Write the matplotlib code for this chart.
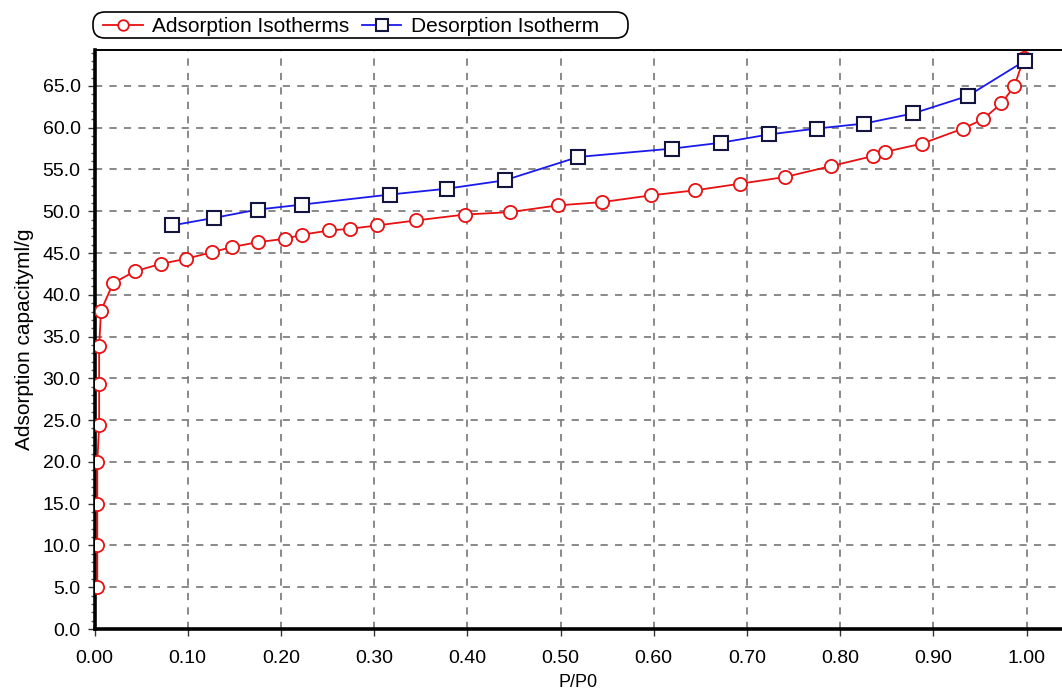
import matplotlib
matplotlib.use("Agg")
import matplotlib.pyplot as plt
from matplotlib.ticker import MultipleLocator, FormatStrFormatter
from matplotlib.patches import FancyBboxPatch
from matplotlib.transforms import IdentityTransform

# Adsorption isotherm (P/P0, capacity ml/g)
ads_x = [0.003, 0.003, 0.003, 0.003, 0.005, 0.005, 0.005, 0.007, 0.020, 0.043,
         0.071, 0.098, 0.126, 0.147, 0.175, 0.204, 0.223, 0.252, 0.274, 0.303,
         0.345, 0.397, 0.446, 0.497, 0.545, 0.597, 0.644, 0.693, 0.741, 0.790,
         0.835, 0.848, 0.888, 0.932, 0.953, 0.973, 0.987, 0.997]
ads_y = [5.0, 10.0, 15.0, 20.0, 24.4, 29.3, 33.9, 38.1, 41.4, 42.8,
         43.7, 44.3, 45.1, 45.7, 46.3, 46.7, 47.2, 47.7, 47.9, 48.3,
         48.9, 49.6, 49.9, 50.7, 51.1, 51.9, 52.5, 53.3, 54.1, 55.4,
         56.6, 57.1, 58.1, 59.9, 61.0, 62.9, 65.0, 68.3]

# Desorption isotherm
des_x = [0.083, 0.128, 0.175, 0.223, 0.317, 0.378, 0.440, 0.519, 0.620, 0.672,
         0.724, 0.775, 0.826, 0.878, 0.937, 0.998]
des_y = [48.3, 49.2, 50.2, 50.8, 52.0, 52.7, 53.7, 56.5, 57.5, 58.2,
         59.2, 59.9, 60.5, 61.7, 63.8, 68.0]

ads_label = "Adsorption Isotherms"
des_label = "Desorption Isotherm"
x_label = "P/P0"
y_label = "Adsorption capacityml/g"

plt.rcParams['font.family'] = ['Liberation Sans', 'DejaVu Sans']

W, H = 1062, 693
fig = plt.figure(figsize=(W/100, H/100), dpi=100)
ax = fig.add_axes([94.5/W, 1-629/H, 1-94.5/W, (629-50)/H])

ax.set_xlim(0, 1.038)
ax.set_ylim(0, 69.3)

ax.grid(True, which='major', color='#808080', linestyle=(0, (4, 4)), linewidth=1.3)
ax.set_axisbelow(True)

l1, = ax.plot(ads_x, ads_y, color='#e81010', linewidth=1.3, marker='o', markersize=9.5,
              markerfacecolor='white', markeredgecolor='#e81010', markeredgewidth=1.3,
              label=ads_label, zorder=3)
l2, = ax.plot(des_x, des_y, color='#1a1aee', linewidth=1.3, marker='s', markersize=10,
              markerfacecolor='white', markeredgecolor='#141440', markeredgewidth=1.5,
              label=des_label, zorder=4)

ax.xaxis.set_major_locator(MultipleLocator(0.1))
ax.xaxis.set_major_formatter(FormatStrFormatter('%.2f'))
ax.yaxis.set_major_locator(MultipleLocator(5))
ax.yaxis.set_minor_locator(MultipleLocator(1))
ax.yaxis.set_major_formatter(FormatStrFormatter('%.1f'))

ax.tick_params(axis='both', which='major', labelsize=14, length=5, width=1, direction='out', color='#333333')
ax.tick_params(axis='x', which='major', pad=10)
ax.tick_params(axis='y', which='major', pad=5)
ax.tick_params(axis='y', which='minor', length=3, width=1, color='#555555')

for s in ['left', 'bottom']:
    ax.spines[s].set_linewidth(2.6)
    ax.spines[s].set_color('black')
ax.spines['top'].set_linewidth(1.4)
ax.spines['right'].set_visible(False)

ax.set_xlabel(x_label, fontsize=13, labelpad=5)
ax.set_ylabel(y_label, fontsize=15, labelpad=6)

# legend (frame drawn separately as a pill-shaped box)
leg = fig.legend(handles=[l1, l2], loc='center left', bbox_to_anchor=(103/W, 1-26.5/H),
                 ncol=2, fontsize=15, frameon=False, handlelength=1.9,
                 handletextpad=0.45, columnspacing=0.6, borderpad=0, borderaxespad=0,
                 markerscale=0.8)
frame = FancyBboxPatch((93, H-38), 628-93, 26, boxstyle='round,pad=0,rounding_size=12',
                       transform=IdentityTransform(), facecolor='white', edgecolor='black',
                       linewidth=1.2, zorder=0)
fig.patches.append(frame)

fig.savefig('out.png', dpi=100)
